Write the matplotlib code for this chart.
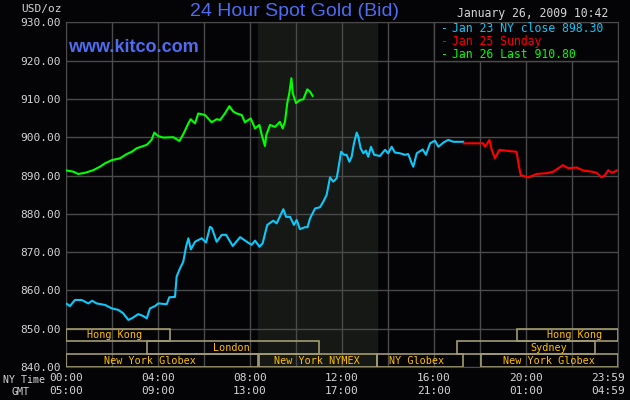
import matplotlib
matplotlib.use("Agg")
import matplotlib.pyplot as plt
import matplotlib.transforms as mtransforms
from matplotlib.patches import Rectangle

# hours after 00:00 NY time, price in USD/oz
jan23_hours = [0.03, 0.17, 0.39, 0.68, 0.97, 1.14, 1.33, 1.70, 1.99, 2.28, 2.49, 2.71, 2.86,
               3.14, 3.36, 3.51, 3.65, 3.87, 4.01, 4.38, 4.49, 4.74, 4.81, 4.96, 5.10, 5.22,
               5.32, 5.43, 5.61, 5.90, 6.09, 6.26, 6.34, 6.55, 6.77, 6.96, 7.25, 7.57, 7.86,
               8.07, 8.22, 8.41, 8.55, 8.75, 9.01, 9.16, 9.33, 9.45, 9.57, 9.74, 9.91, 10.03,
               10.17, 10.39, 10.50, 10.61, 10.83, 11.04, 11.19, 11.33, 11.48, 11.62, 11.77,
               11.88, 11.96, 12.09, 12.20, 12.32, 12.42, 12.52, 12.64, 12.71, 12.81, 12.93,
               13.04, 13.14, 13.26, 13.40, 13.65, 13.87, 14.01, 14.16, 14.30, 14.52, 14.74,
               14.88, 15.03, 15.10, 15.25, 15.51, 15.65, 15.83, 16.04, 16.19, 16.41, 16.62,
               16.84, 17.27]
jan23_price = [856.5, 855.9, 857.5, 857.5, 856.6, 857.3, 856.6, 856.2, 855.3, 854.9, 854.0,
               852.3, 852.7, 853.8, 853.3, 852.7, 855.3, 855.9, 856.6, 856.4, 858.2, 858.3,
               863.6, 865.8, 867.5, 871.4, 873.6, 870.7, 872.7, 873.6, 872.5, 876.6, 876.3,
               872.7, 874.5, 874.5, 871.6, 873.9, 872.7, 871.9, 873.0, 871.4, 872.3, 877.1,
               878.2, 877.5, 879.7, 881.2, 879.2, 879.2, 877.1, 878.4, 876.0, 876.5, 876.5,
               878.8, 881.4, 881.7, 883.2, 884.9, 889.5, 888.4, 889.3, 893.2, 896.2, 895.4,
               895.4, 893.6, 894.9, 898.4, 901.2, 900.1, 897.1, 895.8, 896.5, 894.9, 897.5,
               895.4, 895.1, 896.7, 895.8, 897.5, 896.0, 895.8, 895.4, 895.6, 893.2, 892.3,
               895.8, 896.8, 895.4, 898.4, 899.1, 897.5, 898.6, 899.3, 898.8, 898.8]

jan25_hours = [17.30, 18.14, 18.22, 18.41, 18.51, 18.65, 18.84, 19.23, 19.59, 19.67, 19.77,
               20.10, 20.46, 20.90, 21.19, 21.41, 21.60, 21.84, 22.20, 22.49, 22.86, 23.07,
               23.29, 23.43, 23.58, 23.73, 24.0]
jan25_price = [898.4, 898.4, 897.5, 899.3, 896.7, 894.5, 896.7, 896.4, 896.2, 893.2, 890.1,
               889.5, 890.4, 890.6, 891.0, 891.9, 892.7, 891.9, 892.1, 891.3, 891.0, 890.7,
               889.5, 890.1, 891.4, 890.7, 891.4]

jan26_hours = [0.03, 0.32, 0.53, 0.83, 1.19, 1.48, 1.70, 1.99, 2.35, 2.64, 2.86, 3.07, 3.51,
               3.72, 3.84, 4.01, 4.23, 4.67, 4.93, 5.10, 5.32, 5.42, 5.61, 5.75, 6.04, 6.33,
               6.55, 6.70, 6.91, 7.10, 7.27, 7.42, 7.64, 7.78, 8.03, 8.22, 8.41, 8.51, 8.65,
               8.71, 8.87, 9.09, 9.30, 9.42, 9.52, 9.62, 9.71, 9.80, 9.86, 10.0, 10.17, 10.32,
               10.49, 10.61, 10.72]
jan26_price = [891.3, 891.0, 890.4, 890.7, 891.4, 892.3, 893.2, 894.0, 894.5, 895.6, 896.2,
               897.1, 898.0, 899.3, 901.2, 900.3, 899.9, 900.0, 899.0, 900.8, 903.6, 904.7,
               903.6, 906.2, 905.8, 903.9, 904.7, 904.5, 906.2, 908.1, 906.7, 906.2, 905.8,
               903.9, 904.9, 902.3, 903.2, 900.6, 897.7, 900.6, 903.2, 902.7, 904.0, 902.3,
               904.0, 908.9, 911.5, 915.4, 911.5, 908.9, 909.7, 909.9, 912.5, 911.9, 910.8]

legend_labels = ["Jan 23 NY close 898.30", "Jan 25 Sunday", "Jan 26 Last 910.80"]

y_ticks = [840, 850, 860, 870, 880, 890, 900, 910, 920, 930]
x_ticks = [0, 4, 8, 12, 16, 20, 24]
ny_labels = ["00:00", "04:00", "08:00", "12:00", "16:00", "20:00", "23:59"]
gmt_labels = ["05:00", "09:00", "13:00", "17:00", "21:00", "01:00", "04:59"]

nymex_open, nymex_close = 8.33, 13.5

# row, start hour, end hour, name, hour where the name sits
sessions = [
    (0, 0.0, 4.5, "Hong Kong", 2.13),
    (0, 19.6, 24.0, "Hong Kong", 22.1),
    (1, 3.5, 11.0, "London", 7.2),
    (1, 17.0, 23.0, "Sydney", 21.0),
    (2, 0.0, 8.33, "New York Globex", 3.67),
    (2, 8.4, 13.5, "New York NYMEX", 10.9),
    (2, 13.5, 17.25, "NY Globex", 15.25),
    (2, 18.05, 24.0, "New York Globex", 21.0),
]

bg = "#040406"
grid_c = "#4a4a4a"
txt_c = "#d4d4d4"
blue = "#4d6cf0"
mono = "DejaVu Sans Mono"
line_cols = ["#10c8f8", "#ff0000", "#00ff00"]

fig = plt.figure(figsize=(6.3, 4), dpi=100, facecolor=bg)
ax = fig.add_axes([66/630, 1-367/400, 552/630, (367-22.3)/400], facecolor=bg)

ax.set_xlim(0, 24)
ax.set_ylim(840, 930)

ax.axvspan(nymex_open, nymex_close, color="#151815", zorder=0)

for x in range(0, 25, 2):
    ax.axvline(x, color=grid_c, lw=1, zorder=1)
for y in y_ticks:
    ax.axhline(y, color=grid_c, lw=1, zorder=1)

for s in ax.spines.values():
    s.set_color(grid_c)

ax.plot(jan23_hours, jan23_price, color=line_cols[0], lw=1.5, zorder=3)
ax.plot(jan25_hours, jan25_price, color=line_cols[1], lw=1.5, zorder=3)
ax.plot(jan26_hours, jan26_price, color=line_cols[2], lw=1.5, zorder=3)

# session bars along the bottom
row_h = 10 / 3
for row, start, end, name, lab in sessions:
    bottom = 850 - (row + 1) * row_h
    ax.add_patch(Rectangle((start, bottom), end - start, row_h, fill=False,
                           edgecolor="#a39b70", lw=1.2, zorder=4))
    ax.text(lab, bottom + row_h/2, name, color="#ffc000", family=mono, fontsize=7.3,
            ha="center", va="center", zorder=5)

# legend box
ax.add_patch(Rectangle((16, 920), 8, 10, facecolor=bg, edgecolor=grid_c, lw=1, zorder=4))
for i, (lab, c) in enumerate(zip(legend_labels, line_cols)):
    yy = 928.3 - i*3.3
    ax.text(16.3, yy, "-", color=c, family=mono, fontsize=8.3, va="center", ha="left", zorder=5)
    ax.text(16.77, yy, lab, color=c, family=mono, fontsize=8.3, va="center", ha="left", zorder=5)

ax.set_yticks(y_ticks)
ax.set_yticklabels(["%.2f" % v for v in y_ticks])
ax.set_xticks(x_ticks)
ax.set_xticklabels([a + "\n" + b for a, b in zip(ny_labels, gmt_labels)], linespacing=1.45)
ax.tick_params(length=0, colors=txt_c, labelsize=8, pad=4)
for lbl in ax.get_xticklabels() + ax.get_yticklabels():
    lbl.set_family(mono)
last = ax.get_xticklabels()[-1]
last.set_transform(last.get_transform() + mtransforms.ScaledTranslation(-0.10, 0, fig.dpi_scale_trans))

fig.text(24/630, 1-380/400, "NY Time", color=txt_c, family=mono, fontsize=7.2, ha="center", va="center")
fig.text(21/630, 1-392/400, "GMT", color=txt_c, family=mono, fontsize=7.2, ha="center", va="center")
fig.text(41/630, 1-9/400, "USD/oz", color=txt_c, family=mono, fontsize=8, ha="center", va="center")
fig.text(608/630, 1-14/400, "January 26, 2009 10:42", color=txt_c, family=mono, fontsize=8.3,
         ha="right", va="center")
fig.text(295/630, 1-11/400, "24 Hour Spot Gold (Bid)", color=blue, family="Liberation Sans",
         fontsize=14, ha="center", va="center")
fig.text(68/630, 1-48/400, "www.kitco.com", color=blue, family="Liberation Sans",
         fontsize=13, fontweight="bold", ha="left", va="center")

fig.savefig("out.png", dpi=100, facecolor=bg)
